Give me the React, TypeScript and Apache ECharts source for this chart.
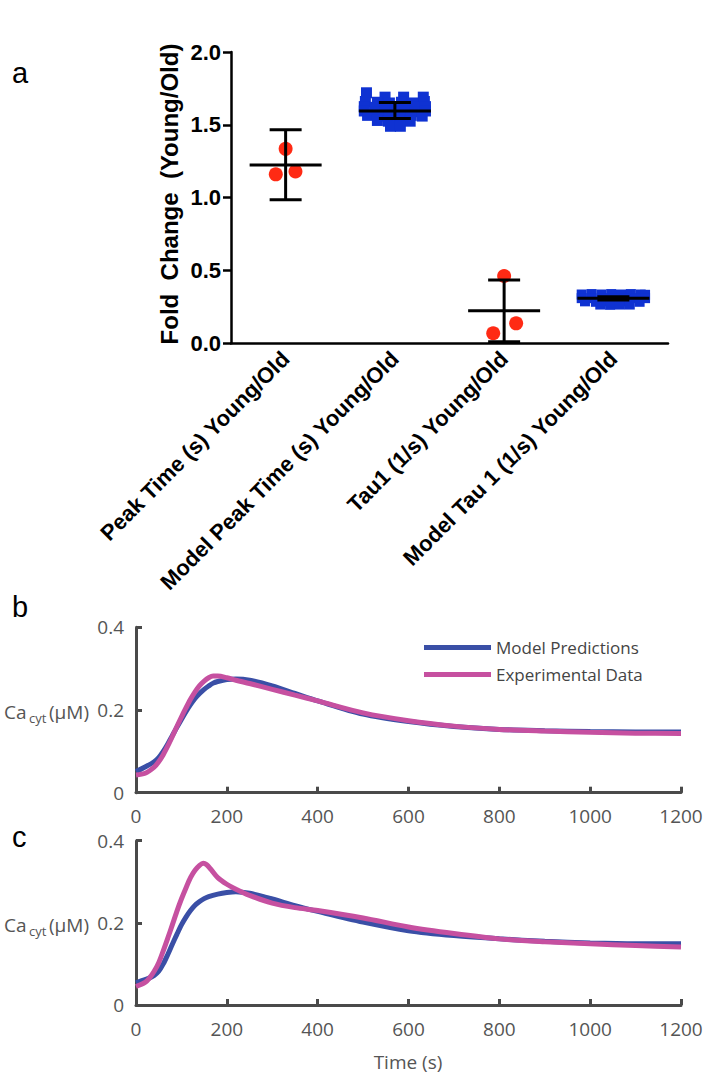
import React, { useEffect, useRef } from "react";
import * as echarts from "echarts";

// ---------- Panel a data ----------
const categories = [
  "Peak Time (s) Young/Old",
  "Model Peak Time (s) Young/Old",
  "Tau1 (1/s) Young/Old",
  "Model Tau 1 (1/s) Young/Old",
];
const foldTicks = [0, 0.5, 1.0, 1.5, 2.0];

// [offset within category, fold change]
const peakTimeExp: number[][] = [
  [0.0, 1.335],
  [-0.09, 1.16],
  [0.09, 1.18],
];
const tau1Exp: number[][] = [
  [0.0, 0.462],
  [-0.1, 0.069],
  [0.11, 0.137],
];
const modelPeak: number[][] = [
  [-0.26, 1.72], [-0.09, 1.69], [0.08, 1.69], [0.26, 1.69],
  [-0.27, 1.66], [-0.16, 1.655], [-0.05, 1.65], [0.06, 1.655], [0.17, 1.65], [0.27, 1.66],
  [-0.28, 1.625], [-0.18, 1.62], [-0.09, 1.625], [0.0, 1.62], [0.09, 1.625], [0.18, 1.62], [0.28, 1.625],
  [-0.28, 1.595], [-0.18, 1.59], [-0.09, 1.595], [0.0, 1.59], [0.09, 1.595], [0.18, 1.59], [0.28, 1.595],
  [-0.25, 1.565], [-0.15, 1.56], [-0.05, 1.565], [0.05, 1.56], [0.15, 1.565], [0.25, 1.56],
  [-0.16, 1.53], [-0.06, 1.525], [0.04, 1.53], [0.14, 1.525],
  [-0.04, 1.49], [0.05, 1.49],
];
const modelTau: number[][] = [
  [-0.29, 0.335], [-0.2, 0.338], [-0.11, 0.335], [-0.02, 0.338], [0.07, 0.335], [0.16, 0.338], [0.25, 0.335], [0.29, 0.333],
  [-0.29, 0.31], [-0.2, 0.31], [-0.1, 0.31], [0.0, 0.31], [0.1, 0.31], [0.2, 0.31], [0.29, 0.31],
  [-0.26, 0.288], [-0.16, 0.285], [-0.06, 0.288], [0.04, 0.285], [0.14, 0.288], [0.24, 0.285],
  [-0.12, 0.266], [-0.03, 0.264], [0.06, 0.266], [0.15, 0.266],
];
// [category index, mean, low, high]
const errorBars: number[][] = [
  [0, 1.225, 0.985, 1.467],
  [1, 1.595, 1.543, 1.653],
  [2, 0.224, 0.011, 0.434],
  [3, 0.309, 0.298, 0.32],
];

// ---------- Panels b & c data ----------
const timeB = [0, 20, 40, 50, 60, 70, 80, 90, 100, 110, 120, 130, 140, 150, 160, 170, 180, 200, 220, 250, 300, 350, 400, 500, 600, 700, 800, 900, 1000, 1100, 1200];
const modelB = [0.051, 0.062, 0.075, 0.085, 0.1, 0.118, 0.138, 0.158, 0.177, 0.196, 0.213, 0.228, 0.24, 0.25, 0.258, 0.265, 0.269, 0.274, 0.275, 0.272, 0.258, 0.24, 0.222, 0.19, 0.172, 0.16, 0.153, 0.15, 0.148, 0.147, 0.147];
const expB = [0.043, 0.047, 0.062, 0.075, 0.092, 0.113, 0.136, 0.16, 0.183, 0.205, 0.226, 0.244, 0.259, 0.27, 0.278, 0.282, 0.282, 0.278, 0.272, 0.264, 0.25, 0.236, 0.222, 0.193, 0.174, 0.161, 0.153, 0.149, 0.146, 0.144, 0.143];

const timeCModel = [0, 20, 30, 40, 50, 60, 70, 80, 90, 100, 110, 120, 130, 140, 150, 160, 180, 200, 220, 250, 300, 350, 400, 500, 600, 700, 800, 900, 1000, 1100, 1200];
const modelC = [0.054, 0.062, 0.066, 0.072, 0.082, 0.1, 0.123, 0.148, 0.172, 0.195, 0.214, 0.23, 0.243, 0.252, 0.259, 0.264, 0.27, 0.274, 0.276, 0.272, 0.258, 0.242, 0.228, 0.202, 0.181, 0.169, 0.161, 0.155, 0.151, 0.149, 0.149];
const timeCExp = [0, 20, 30, 40, 50, 60, 70, 80, 90, 100, 110, 120, 130, 140, 148, 155, 165, 180, 200, 220, 250, 300, 350, 400, 500, 600, 700, 800, 900, 1000, 1100, 1200];
const expC = [0.045, 0.055, 0.066, 0.082, 0.103, 0.132, 0.163, 0.195, 0.228, 0.258, 0.285, 0.31, 0.328, 0.34, 0.345, 0.342, 0.33, 0.31, 0.294, 0.282, 0.267, 0.248, 0.237, 0.23, 0.212, 0.19, 0.174, 0.161, 0.154, 0.149, 0.145, 0.141];

const timeTicks = [0, 200, 400, 600, 800, 1000, 1200];
const caTicks = [0, 0.2, 0.4];

const BLUE_LINE = "#3a4fa6";
const PINK_LINE = "#c650a0";
const SQ_BLUE = "#0f32d2";
const DOT_RED = "#ff2a14";
const AX_GRAY = "#4a4a4a";
const LBL_GRAY = "#555555";

const zip = (t: number[], v: number[]) => t.map((x, i) => [x, v[i]]);
const place = (cat: number, pts: number[][]) => pts.map((p) => [cat + 0.5 + p[0], p[1]]);

export default function App() {
  const ref = useRef<HTMLDivElement>(null);
  useEffect(() => {
    if (!ref.current) return;
    const chart = echarts.init(ref.current, undefined, { renderer: "svg" });
    const boldFont = "Liberation Sans, Arial, sans-serif";
    const grayFont = "Open Sans, Noto Sans, sans-serif";

    const lineAxisCommon = {
      axisLine: { show: true, lineStyle: { color: AX_GRAY, width: 3 } },
      axisTick: { show: true, inside: true, length: 6, lineStyle: { color: AX_GRAY, width: 3 } },
      splitLine: { show: false },
      axisLabel: { color: LBL_GRAY, fontFamily: grayFont, fontSize: 19, formatter: (v: number) => String(v) },
    };

    const option: any = {
      animation: false,
      backgroundColor: "#ffffff",
      grid: [
        { left: 231, top: 52, width: 437, height: 291.3 },
        { left: 136, top: 627.3, width: 545, height: 165.4 },
        { left: 136, top: 840.7, width: 545, height: 164.3 },
      ],
      legend: {
        orient: "vertical",
        left: 419,
        top: 634,
        itemWidth: 67,
        itemHeight: 5,
        itemGap: 10,
        icon: "rect",
        textStyle: { fontFamily: grayFont, fontSize: 17, color: "#444444" },
        data: ["Model Predictions", "Experimental Data"],
      },
      xAxis: [
        {
          type: "category",
          gridIndex: 0,
          data: categories,
          boundaryGap: true,
          axisLine: { lineStyle: { color: "#000", width: 2.5 } },
          axisTick: { alignWithLabel: true, length: 8, lineStyle: { color: "#000", width: 2.5 } },
          axisLabel: {
            interval: 0,
            rotate: 45,
            margin: 12,
            color: "#000",
            fontFamily: boldFont,
            fontWeight: "bold",
            fontSize: 22,
          },
        },
        { type: "value", gridIndex: 0, min: 0, max: 4, show: false },
        {
          type: "value",
          gridIndex: 1,
          min: timeTicks[0],
          max: timeTicks[timeTicks.length - 1],
          interval: 200,
          ...lineAxisCommon,
          axisLabel: { ...lineAxisCommon.axisLabel, margin: 14 },
        },
        {
          type: "value",
          gridIndex: 2,
          min: timeTicks[0],
          max: timeTicks[timeTicks.length - 1],
          interval: 200,
          ...lineAxisCommon,
          axisLabel: { ...lineAxisCommon.axisLabel, margin: 14 },
        },
      ],
      yAxis: [
        {
          type: "value",
          gridIndex: 0,
          min: foldTicks[0],
          max: foldTicks[foldTicks.length - 1],
          interval: 0.5,
          axisLine: { show: true, lineStyle: { color: "#000", width: 2.5 } },
          axisTick: { show: true, length: 8, lineStyle: { color: "#000", width: 2.5 } },
          splitLine: { show: false },
          axisLabel: {
            margin: 10,
            color: "#000",
            fontFamily: boldFont,
            fontWeight: "bold",
            fontSize: 22,
            formatter: (v: number) => v.toFixed(1),
          },
        },
        {
          type: "value",
          gridIndex: 1,
          min: caTicks[0],
          max: caTicks[caTicks.length - 1],
          interval: 0.2,
          ...lineAxisCommon,
          axisLabel: { ...lineAxisCommon.axisLabel, margin: 12 },
        },
        {
          type: "value",
          gridIndex: 2,
          min: caTicks[0],
          max: caTicks[caTicks.length - 1],
          interval: 0.2,
          ...lineAxisCommon,
          axisLabel: { ...lineAxisCommon.axisLabel, margin: 12 },
        },
      ],
      series: [
        {
          type: "scatter",
          name: "Peak Time exp",
          xAxisIndex: 1,
          yAxisIndex: 0,
          symbol: "circle",
          symbolSize: 14,
          itemStyle: { color: DOT_RED, opacity: 1 },
          data: place(0, peakTimeExp),
        },
        {
          type: "scatter",
          name: "Model Peak",
          xAxisIndex: 1,
          yAxisIndex: 0,
          symbol: "rect",
          symbolSize: 11,
          itemStyle: { color: SQ_BLUE, opacity: 1 },
          data: place(1, modelPeak),
        },
        {
          type: "scatter",
          name: "Tau1 exp",
          xAxisIndex: 1,
          yAxisIndex: 0,
          symbol: "circle",
          symbolSize: 14,
          itemStyle: { color: DOT_RED, opacity: 1 },
          data: place(2, tau1Exp),
        },
        {
          type: "scatter",
          name: "Model Tau",
          xAxisIndex: 1,
          yAxisIndex: 0,
          symbol: "rect",
          symbolSize: 10,
          itemStyle: { color: SQ_BLUE, opacity: 1 },
          data: place(3, modelTau),
        },
        {
          type: "custom",
          name: "Mean ± SD",
          xAxisIndex: 1,
          yAxisIndex: 0,
          encode: { x: 0, y: 1 },
          data: errorBars.map((e) => [e[0] + 0.5, e[1], e[2], e[3]]),
          renderItem: (params: any, api: any) => {
            const x = api.value(0);
            const pm = api.coord([x, api.value(1)]);
            const pl = api.coord([x, api.value(2)]);
            const ph = api.coord([x, api.value(3)]);
            const style = { stroke: "#000", lineWidth: 3 };
            return {
              type: "group",
              children: [
                { type: "line", shape: { x1: pm[0] - 36, y1: pm[1], x2: pm[0] + 36, y2: pm[1] }, style },
                { type: "line", shape: { x1: pl[0], y1: pl[1], x2: ph[0], y2: ph[1] }, style },
                { type: "line", shape: { x1: ph[0] - 16, y1: ph[1], x2: ph[0] + 16, y2: ph[1] }, style },
                { type: "line", shape: { x1: pl[0] - 16, y1: pl[1], x2: pl[0] + 16, y2: pl[1] }, style },
              ],
            };
          },
          z: 5,
        },
        {
          type: "line",
          name: "Model Predictions",
          xAxisIndex: 2,
          yAxisIndex: 1,
          showSymbol: false,
          smooth: 0.3,
          color: BLUE_LINE,
          lineStyle: { color: BLUE_LINE, width: 5 },
          data: zip(timeB, modelB),
        },
        {
          type: "line",
          name: "Experimental Data",
          xAxisIndex: 2,
          yAxisIndex: 1,
          showSymbol: false,
          smooth: 0.3,
          color: PINK_LINE,
          lineStyle: { color: PINK_LINE, width: 5 },
          data: zip(timeB, expB),
        },
        {
          type: "line",
          name: "Model Predictions",
          xAxisIndex: 3,
          yAxisIndex: 2,
          showSymbol: false,
          smooth: 0.3,
          color: BLUE_LINE,
          lineStyle: { color: BLUE_LINE, width: 5 },
          data: zip(timeCModel, modelC),
        },
        {
          type: "line",
          name: "Experimental Data",
          xAxisIndex: 3,
          yAxisIndex: 2,
          showSymbol: false,
          smooth: 0.3,
          color: PINK_LINE,
          lineStyle: { color: PINK_LINE, width: 5 },
          data: zip(timeCExp, expC),
        },
      ],
      graphic: [
        { type: "text", left: 12, top: 58, style: { text: "a", fontSize: 29, fontFamily: "Liberation Sans, Arial, sans-serif", fill: "#000" } },
        { type: "text", left: 12, top: 592, style: { text: "b", fontSize: 29, fontFamily: "Liberation Sans, Arial, sans-serif", fill: "#000" } },
        { type: "text", left: 12, top: 822, style: { text: "c", fontSize: 29, fontFamily: "Liberation Sans, Arial, sans-serif", fill: "#000" } },
        {
          type: "text",
          x: 169,
          y: 194,
          rotation: Math.PI / 2,
          style: {
            text: "Fold  Change  (Young/Old)",
            fontSize: 24,
            fontWeight: "bold",
            fontFamily: boldFont,
            fill: "#000",
            align: "center",
            verticalAlign: "middle",
          },
        },
        // Ca_cyt (µM) label, panel b
        { type: "text", x: 4, y: 712, style: { text: "Ca", fontSize: 19, fontFamily: grayFont, fill: LBL_GRAY, align: "left", verticalAlign: "middle" } },
        { type: "text", x: 29, y: 718, style: { text: "cyt", fontSize: 13, fontFamily: grayFont, fill: LBL_GRAY, align: "left", verticalAlign: "middle" } },
        { type: "text", x: 49, y: 712, style: { text: "(µM)", fontSize: 19, fontFamily: grayFont, fill: LBL_GRAY, align: "left", verticalAlign: "middle" } },
        // panel c
        { type: "text", x: 4, y: 925, style: { text: "Ca", fontSize: 19, fontFamily: grayFont, fill: LBL_GRAY, align: "left", verticalAlign: "middle" } },
        { type: "text", x: 29, y: 931, style: { text: "cyt", fontSize: 13, fontFamily: grayFont, fill: LBL_GRAY, align: "left", verticalAlign: "middle" } },
        { type: "text", x: 49, y: 925, style: { text: "(µM)", fontSize: 19, fontFamily: grayFont, fill: LBL_GRAY, align: "left", verticalAlign: "middle" } },
        {
          type: "text",
          x: 408,
          y: 1062,
          style: { text: "Time (s)", fontSize: 19, fontFamily: grayFont, fill: LBL_GRAY, align: "center", verticalAlign: "middle" },
        },
      ],
    };
    chart.setOption(option);
    return () => chart.dispose();
  }, []);
  return <div ref={ref} style={{ position: "fixed", left: 0, top: 0, width: 720, height: 1076 }} />;
}
